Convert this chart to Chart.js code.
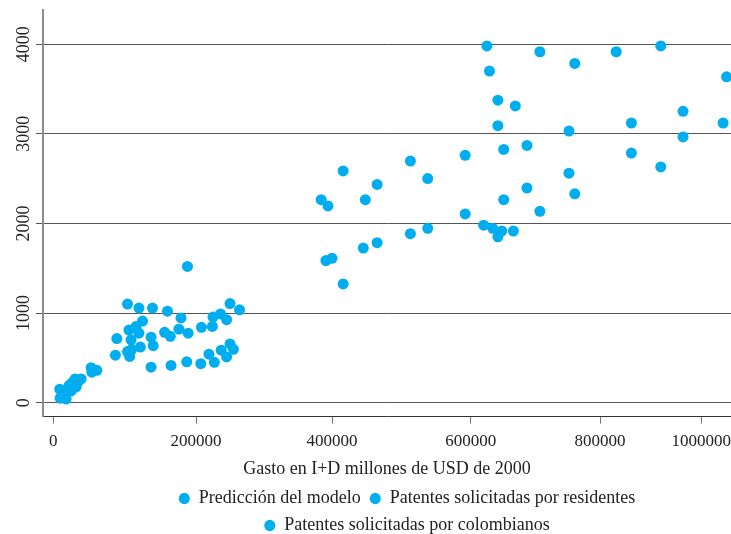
<!DOCTYPE html>
<html lang="es">
<head>
<meta charset="utf-8">
<title>Gasto en I+D y patentes</title>
<script src="https://cdn.jsdelivr.net/npm/chart.js@4.4.1/dist/chart.umd.min.js"></script>
<style>
  html, body { margin: 0; padding: 0; background: #fff; }
  #wrap { position: relative; width: 731px; height: 534px; }
</style>
</head>
<body>
<div id="wrap"><canvas id="grafico"></canvas></div>
<script>
// tick labels
const xTicks = [0, 200000, 400000, 600000, 800000, 1000000];
const yTicks = [0, 1000, 2000, 3000, 4000];

// Predicción del modelo
const predX = [122000, 110000, 104000, 107000, 87000, 137000, 165000, 187000, 207000, 219000, 227000, 237000, 245000, 250000, 255000,
  513000, 538000, 391000, 400000, 445000, 465000, 416000,
  651000, 687000, 761000, 707000, 592000, 620000, 634000, 648000, 642000, 666000];
const predY = [620, 595, 570, 515, 530, 395, 415, 455, 435, 540, 450, 585, 510, 655, 595,
  1885, 1945, 1585, 1610, 1725, 1785, 1325,
  2265, 2395, 2330, 2135, 2105, 1980, 1945, 1915, 1850, 1915];

// Patentes solicitadas por residentes
const resX = [188000, 104000, 120000, 139000, 160000, 179000, 250000, 264000, 236000, 225000, 245000, 224000, 208000,
  125000, 116000, 106000, 120000, 89000, 109000, 137000, 140000, 156000, 164000, 176000, 189000,
  416000, 384000, 394000, 448000, 465000, 513000, 538000,
  625000, 707000, 761000, 832000, 920000, 1050000, 629000, 642000, 669000, 642000, 752000, 862000, 964000,
  1043000, 964000, 592000, 651000, 687000, 862000, 920000, 752000];
const resY = [1520, 1100, 1055, 1055, 1020, 945, 1105, 1035, 990, 955, 925, 850, 840,
  910, 850, 810, 775, 715, 700, 730, 635, 785, 740, 820, 775,
  2585, 2265, 2195, 2265, 2435, 2695, 2500,
  3980, 3915, 3785, 3915, 3980, 3635, 3700, 3375, 3310, 3090, 3030, 3120, 3250,
  3120, 2965, 2760, 2825, 2870, 2785, 2630, 2560];

// Patentes solicitadas por colombianos
const colX = [9000, 9500, 15000, 19000, 22000, 26000, 30500, 34500, 39000, 25000, 32000, 18000, 53000, 61000, 54000];
const colY = [150, 50, 75, 120, 190, 220, 265, 230, 265, 130, 175, 40, 390, 360, 340];

const CIAN = '#00aeef';
const TEXTO = '#222';

function serie(nombre, xs, ys) {
  return {
    label: nombre,
    data: xs.map((x, i) => ({ x: x, y: ys[i] })),
    backgroundColor: CIAN,
    borderColor: CIAN,
    borderWidth: 0,
    pointRadius: 5.5,
    pointHoverRadius: 5.5
  };
}

// x axis whose labelled ticks are not evenly spaced: each stop is
// [value, fraction of the axis length]; values in between are interpolated
const xStops = [[0, 0.015], [200000, 0.2224], [400000, 0.4201], [600000, 0.6217], [800000, 0.8096], [1000000, 0.9568]];

function stopDecimal(v) {
  let i = 1;
  while (i < xStops.length - 1 && v > xStops[i][0]) i++;
  const [v0, d0] = xStops[i - 1], [v1, d1] = xStops[i];
  return d0 + (v - v0) * (d1 - d0) / (v1 - v0);
}

function stopValue(d) {
  let i = 1;
  while (i < xStops.length - 1 && d > xStops[i][1]) i++;
  const [v0, d0] = xStops[i - 1], [v1, d1] = xStops[i];
  return v0 + (d - d0) * (v1 - v0) / (d1 - d0);
}

class SegmentedScale extends Chart.LinearScale {
  static id = 'segmented';
  static defaults = Chart.LinearScale.defaults;

  getPixelForValue(value) {
    if (value === null || value === undefined || isNaN(value)) return NaN;
    return this.getPixelForDecimal(stopDecimal(value));
  }

  getValueForPixel(pixel) {
    return stopValue(this.getDecimalForPixel(pixel));
  }
}
Chart.register(SegmentedScale);

// nudge the legend a little to the right of the plot centre
const legendOffset = {
  id: 'legendOffset',
  afterLayout(chart) {
    chart.legend.left += 20;
    chart.legend.right += 20;
  }
};

Chart.defaults.font.family = "'Liberation Serif', 'Times New Roman', serif";
Chart.defaults.color = TEXTO;

new Chart(document.getElementById('grafico'), {
  type: 'scatter',
  data: {
    datasets: [
      serie('Predicción del modelo', predX, predY),
      serie('Patentes solicitadas por residentes', resX, resY),
      serie('Patentes solicitadas por colombianos', colX, colY)
    ]
  },
  plugins: [legendOffset],
  options: {
    responsive: true,
    maintainAspectRatio: false,
    animation: false,
    layout: {
      autoPadding: false,
      padding: { top: 10, left: 0, right: 0, bottom: -10.5 }
    },
    plugins: {
      legend: {
        position: 'bottom',
        fullSize: false,
        labels: {
          usePointStyle: true,
          pointStyle: 'circle',
          pointStyleWidth: 11,
          boxHeight: 8,
          padding: 9,
          color: TEXTO,
          font: { size: 18 }
        }
      },
      tooltip: { enabled: false }
    },
    scales: {
      x: {
        type: 'segmented',
        min: -14400,
        max: 1058700,
        afterBuildTicks: s => { s.ticks = xTicks.map(v => ({ value: v })); },
        // the end labels may run to the canvas edge
        afterFit: s => { s.paddingLeft = 0; s.paddingRight = 0; },
        ticks: {
          color: TEXTO,
          font: { size: 17 },
          padding: 7.5,
          maxRotation: 0,
          autoSkip: false,
          callback: v => String(v)
        },
        grid: { drawOnChartArea: false, color: '#777', tickLength: 7 },
        border: { color: '#333', width: 1 },
        title: {
          display: true,
          text: 'Gasto en I+D millones de USD de 2000',
          color: TEXTO,
          font: { size: 18 },
          padding: { top: -1, bottom: 0.8 }
        }
      },
      y: {
        min: -157,
        max: 4381,
        afterBuildTicks: s => { s.ticks = yTicks.map(v => ({ value: v })); },
        afterFit: s => { s.width = 43; },
        ticks: {
          color: TEXTO,
          font: { size: 18 },
          padding: -6.5,
          minRotation: 90,
          maxRotation: 90,
          crossAlign: 'center',
          callback: v => String(v)
        },
        grid: { color: '#555', lineWidth: 1, tickLength: 7 },
        border: { color: '#8c8c8c', width: 2 }
      }
    }
  }
});
</script>
</body>
</html>
